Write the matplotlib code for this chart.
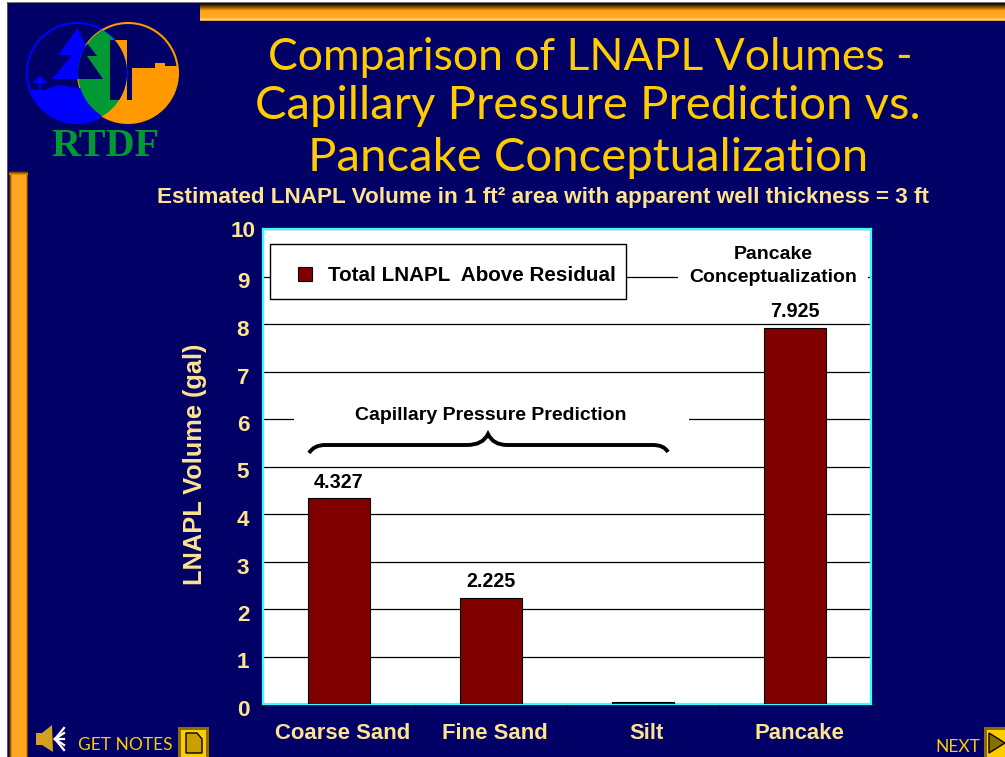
"""Comparison of LNAPL volumes slide."""
import numpy as np
import matplotlib
matplotlib.use("Agg")
import matplotlib.pyplot as plt
from matplotlib.patches import Rectangle, Circle, Polygon, PathPatch
from matplotlib.path import Path
from matplotlib.transforms import Affine2D, ScaledTranslation

W, H = 1005, 757
NAVY = "#000066"
GOLD = "#FFCC00"
CREAM = "#FFE38F"
ORANGE = "#FF9900"
BAR_COLOR = "#800000"

categories = ["Coarse Sand", "Fine Sand", "Silt", "Pancake"]
volumes = [4.327, 2.225, 0.04, 7.925]
bar_texts = ["4.327", "2.225", "", "7.925"]
y_ticks = list(range(0, 11))

title_lines = ["Comparison of LNAPL Volumes -",
               "Capillary Pressure Prediction vs.",
               "Pancake Conceptualization"]
subtitle = "Estimated LNAPL Volume in 1 ft² area with apparent well thickness = 3 ft"

plt.rcParams["font.family"] = ["Liberation Sans", "DejaVu Sans"]

fig = plt.figure(figsize=(W / 100, H / 100), dpi=100, facecolor=NAVY)
px = Affine2D().scale(1, -1).translate(0, H)  # pixel coordinates, y downward


def add(artist):
    artist.set_transform(px)
    fig.add_artist(artist)
    return artist


def rect(x, y, w, h, color, **kw):
    return add(Rectangle((x, y), w, h, facecolor=color, edgecolor="none", **kw))


def poly(points, color, clip=None, **kw):
    p = add(Polygon(points, closed=True, facecolor=color, edgecolor="none", **kw))
    if clip is not None:
        p.set_clip_path(clip)
    return p


def label(x, y, s, **kw):
    kw.setdefault("ha", "center")
    kw.setdefault("va", "center")
    return fig.text(x, y, s, transform=px, **kw)


# slide frame
rect(0, 0, W, 2, "white")
rect(0, 2, W, 1, "#777777")
rect(0, 0, 7, H, "white")
rect(7, 2, 1, H, "#555555")

# orange bevel bars
for i, c in enumerate(["#2A1800", "#4A2C00", "#6E4300", "#935A00", "#B87200",
                       "#DD8A00", "#FF9C10", "#FFA520", "#FFA520", "#FFA520",
                       "#FFA520", "#FFA520", "#FFA520", "#FFB030", "#FFC050",
                       "#FFD080", "#E8A040"]):
    rect(200, 4 + i, W - 200, 1, c)
for i, c in enumerate(["#4A2C00", "#8A5500", "#E08C00", "#FFA520", "#FFA520",
                       "#FFA520", "#FFA520", "#FFA520", "#FFA520", "#FFA520",
                       "#FFA520", "#FFA520", "#FFA520", "#FFA520", "#FFA520",
                       "#FFA520", "#FFA520", "#E08C00", "#6E4300"]):
    rect(9 + i, 171, 1, H - 171, c)
for i, c in enumerate(["#3A2000", "#7A4A00", "#B87200", "#E08C00"]):
    rect(9, 171 + i, 19, 1, c)

# logo
blue_c = add(Circle((77, 73), 50, facecolor=NAVY, edgecolor="#0000FF", linewidth=1.5))
orange_c = add(Circle((128, 73), 50, facecolor="none", edgecolor=ORANGE, linewidth=1.5))
poly([(78, 28), (58, 55), (72, 55), (52, 79), (78, 79), (100, 79), (78, 28)], "#0000FF", blue_c)
poly([(40, 75), (33, 83), (47, 83)], "#0000FF", blue_c)
rect(39, 83, 2, 6, "#0000FF")
poly([(25, 88), (35, 90), (45, 90), (55, 86), (62, 85), (70, 87), (80, 88), (90, 88),
      (130, 130), (25, 130)], "#0000FF", blue_c)
poly([(110, 40), (127, 40), (127, 100), (110, 100)], ORANGE, orange_c)
poly([(132, 68), (155, 68), (155, 63), (165, 63), (165, 66), (180, 66), (180, 130), (100, 130),
      (100, 100), (132, 100)], ORANGE, orange_c)
lens = add(Circle((128, 73), 50, facecolor="#009933", edgecolor="none"))
lens.set_clip_path(blue_c)
tree = poly([(87, 43), (97, 56), (87, 56), (103, 79), (70, 79), (70, 43)], NAVY, blue_c)
tree.set_clip_path(Circle((128, 73), 50, transform=px))
slot = rect(110, 40, 18, 60, NAVY)
slot.set_clip_path(Circle((77, 73), 50, transform=px))
label(105, 146, "RTDF", color="#009933", family="Liberation Serif", fontweight="bold",
      fontsize=29)

# title
for xx, yy, size, line in zip([590, 588, 588], [58, 106, 158], [32, 34, 34], title_lines):
    label(xx, yy, line, color=GOLD, family="Lato", fontsize=size)
label(543, 197, subtitle, color=CREAM, fontweight="bold", fontsize=16.2)

# chart
ax = fig.add_axes([263 / W, 1 - 704 / H, 608 / W, 475 / H], facecolor="white", zorder=2)
xpos = np.arange(len(categories))
bars = ax.bar(xpos, volumes, width=0.408, color=BAR_COLOR, edgecolor="black", linewidth=0.8,
              zorder=3, label="Total LNAPL  Above Residual")
ax.bar_label(bars, labels=bar_texts, padding=5, fontsize=14.2, fontweight="bold", color="black",
             zorder=6)
ax.set_xlim(-0.5, len(categories) - 0.5)
ax.set_ylim(0, 10)
ax.set_yticks(y_ticks)
ax.yaxis.grid(True, color="black", linewidth=0.9, zorder=1)
ax.set_axisbelow(True)
ax.set_xticks(xpos, categories)
ax.set_xticks(np.arange(len(categories) + 1) - 0.5, minor=True)
ax.tick_params(axis="x", which="major", length=0, pad=13.7, labelsize=15.9, labelcolor=CREAM)
ax.tick_params(axis="x", which="minor", length=3, width=1, color="black")
ax.tick_params(axis="y", length=3, width=1, color="black", pad=11.4, labelsize=16.2,
               labelcolor=CREAM)
for t in ax.get_xticklabels():
    t.set_fontweight("bold")
    t.set_transform(t.get_transform() + ScaledTranslation(4 / 100, 0, fig.dpi_scale_trans))
for t, v in zip(ax.get_yticklabels(), y_ticks):
    t.set_fontweight("bold")
    t.set_horizontalalignment("center")
    if v < 10:
        t.set_transform(t.get_transform() + ScaledTranslation(0, -4 / 100, fig.dpi_scale_trans))
for s in ax.spines.values():
    s.set_color("#33FFFF")
    s.set_linewidth(1.6)
ax.set_ylabel("LNAPL Volume (gal)", color=CREAM, fontweight="bold", fontsize=18.3, va="center")
ax.yaxis.set_label_coords(195 / W, 1 - 464 / H, transform=fig.transFigure)

leg = ax.legend(loc="upper left", bbox_to_anchor=(7 / 608, 1 - 69 / 475, 356 / 608, 54 / 475),
                mode="expand", borderaxespad=0, fancybox=False, framealpha=1, edgecolor="black",
                handlelength=0.68, handleheight=0.68, handletextpad=1.25, borderpad=0.87,
                prop={"weight": "bold", "size": 14.9})
leg.get_frame().set_linewidth(1)
leg.set_zorder(7)
handle = leg.legend_handles[0]
handle.set_x(handle.get_x() + 7)
handle.set_y(handle.get_y() - 3)
leg.get_texts()[0].set_y(-4)

# annotations sit on white patches that break the gridlines
rect(294, 395, 395, 40, "white", zorder=3)
rect(678, 240, 190, 58, "white", zorder=3)
label(491, 416, "Capillary Pressure Prediction", color="black", fontweight="bold", fontsize=14,
      zorder=4)
label(773, 266, "Pancake\nConceptualization", color="black", fontweight="bold", fontsize=14,
      linespacing=1.43, zorder=4)
brace = Path([(309, 453), (314, 445), (325, 445), (467, 445), (483, 445), (488, 434),
              (493, 445), (507, 445), (653, 445), (664, 445), (668, 452)],
             [Path.MOVETO, Path.CURVE3, Path.CURVE3, Path.LINETO, Path.CURVE3, Path.CURVE3,
              Path.CURVE3, Path.CURVE3, Path.LINETO, Path.CURVE3, Path.CURVE3])
add(PathPatch(brace, facecolor="none", edgecolor="black", linewidth=2.8, zorder=4))

# navigation
poly([(36, 733), (42, 733), (52, 725), (53, 752), (42, 745), (36, 745)], "#D4A020")
for dy in (-11, -6, 0, 6, 11):
    add(plt.Line2D([55, 64], [739, 739 + dy], color="white", linewidth=1.6))
label(78, 745, "GET NOTES", ha="left", color=GOLD, family="Lato", fontsize=12.5)
rect(178, 727, 31, 30, "#8A6E00")
rect(181, 730, 25, 27, GOLD)
poly([(186, 733), (197, 733), (202, 739), (202, 753), (186, 753)], "#C9A000").set_edgecolor("black")
label(935, 747, "NEXT", ha="left", color=GOLD, family="Lato", fontsize=12.5)
rect(984, 727, 21, 30, "#8A6E00")
rect(987, 730, 18, 27, GOLD)
poly([(989, 733), (1005, 743), (989, 753)], "#8A6E00").set_edgecolor("black")

fig.savefig("out.png", dpi=100, facecolor=NAVY)
